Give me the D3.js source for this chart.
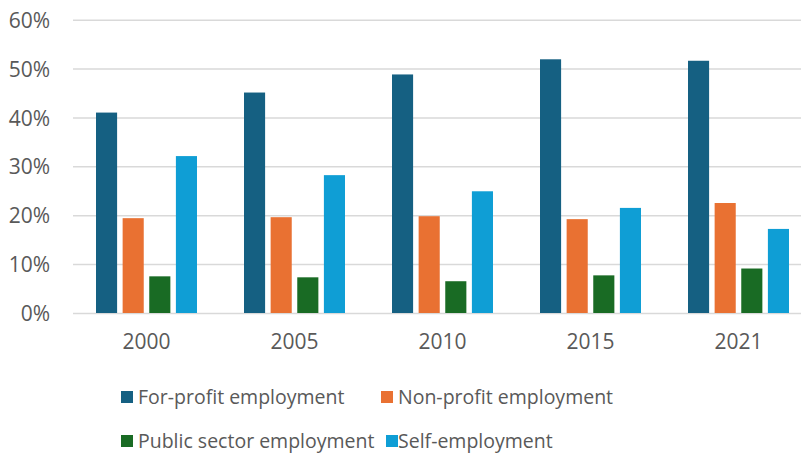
<!DOCTYPE html>
<html>
<head>
<meta charset="utf-8">
<script src="https://cdn.jsdelivr.net/npm/d3@7"></script>
<style>
  html, body { margin: 0; padding: 0; background: #fff; }
  svg { display: block; font-family: "Open Sans", "Liberation Sans", sans-serif; }
</style>
</head>
<body>
<svg id="chart" width="801" height="455"></svg>
<script>
// Employment shares by sector, selected years
const years = ["2000", "2005", "2010", "2015", "2021"];
const seriesNames = ["For-profit employment", "Non-profit employment", "Public sector employment", "Self-employment"];
const forProfit = [41.0, 45.1, 48.8, 51.9, 51.6];
const nonProfit = [19.4, 19.6, 19.8, 19.2, 22.5];
const publicSector = [7.5, 7.3, 6.5, 7.7, 9.1];
const selfEmployment = [32.1, 28.2, 24.9, 21.5, 17.2];
const yTicks = [0, 10, 20, 30, 40, 50, 60];
const colors = ["#156082", "#E97132", "#196B24", "#0F9ED5"];

const seriesValues = [forProfit, nonProfit, publicSector, selfEmployment];

const svg = d3.select("#chart");
const textColor = "#595959";
const axisFont = 21;

const y = d3.scaleLinear().domain([0, 60]).range([313, 19.7]);
const x0 = d3.scaleBand().domain(years).range([72.5, 812.5]).padding(0);
const x1 = d3.scaleBand().domain(d3.range(seriesNames.length))
  .range([23.5, 124.5]).paddingInner(0.2075).paddingOuter(0);

// Horizontal gridlines and percentage labels
const yAxis = d3.axisLeft(y)
  .tickValues(yTicks)
  .tickSize(-(801 - 73))
  .tickPadding(23)
  .tickFormat(d => d + "%");

const gy = svg.append("g")
  .attr("transform", "translate(73,0)")
  .call(yAxis);
gy.select(".domain").remove();
gy.selectAll(".tick line")
  .attr("stroke", "#d9d9d9")
  .attr("stroke-width", 1.5);
gy.selectAll(".tick text")
  .attr("fill", textColor)
  .attr("font-size", axisFont)
  .attr("dy", "0.36em")
  .attr("font-family", "'Open Sans', 'Liberation Sans', sans-serif");

// Grouped bars
const groups = svg.append("g")
  .selectAll("g")
  .data(years)
  .join("g")
  .attr("transform", d => `translate(${x0(d)},0)`);

groups.selectAll("rect")
  .data((d, i) => seriesValues.map((vals, s) => ({ s, v: vals[i] })))
  .join("rect")
  .attr("x", d => x1(d.s))
  .attr("width", x1.bandwidth())
  .attr("y", d => y(d.v))
  .attr("height", d => y(0) - y(d.v))
  .attr("fill", d => colors[d.s]);

// Category labels, centred under each cluster of bars
const clusterMid = (x1(0) + x1(seriesNames.length - 1) + x1.bandwidth()) / 2;
const xAxis = d3.axisBottom(x0).tickSize(0).tickPadding(21);
const gx = svg.append("g")
  .attr("transform", `translate(0,${y(0)})`)
  .call(xAxis);
gx.select(".domain").remove();
gx.selectAll(".tick")
  .attr("transform", d => `translate(${x0(d) + clusterMid},0)`);
gx.selectAll(".tick text")
  .attr("fill", textColor)
  .attr("font-size", axisFont)
  .attr("font-family", "'Open Sans', 'Liberation Sans', sans-serif");

// Legend in two rows
const legendPos = [
  { sx: 121, tx: 138, y: 391 },
  { sx: 381, tx: 398, y: 391 },
  { sx: 121, tx: 138, y: 435 },
  { sx: 386, tx: 398, y: 435 }
];
const legend = svg.append("g")
  .selectAll("g")
  .data(seriesNames)
  .join("g")
  .attr("transform", (d, i) => `translate(0,${legendPos[i].y})`);

legend.append("rect")
  .attr("x", (d, i) => legendPos[i].sx)
  .attr("width", 12)
  .attr("height", 12)
  .attr("fill", (d, i) => colors[i]);

legend.append("text")
  .attr("x", (d, i) => legendPos[i].tx)
  .attr("y", 6)
  .attr("dy", "0.35em")
  .attr("fill", textColor)
  .attr("font-size", 19.5)
  .text(d => d);
</script>
</body>
</html>
